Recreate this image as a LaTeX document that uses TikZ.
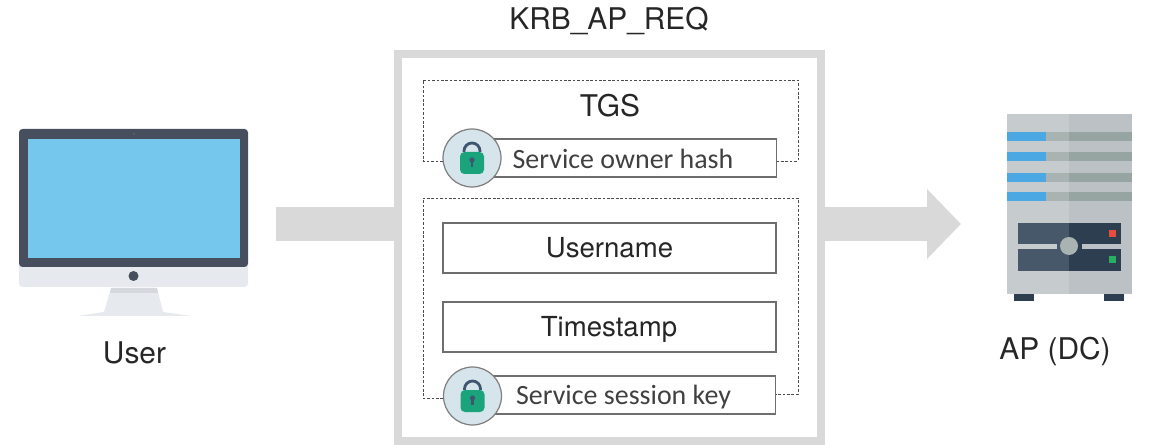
\documentclass[tikz,border=0pt]{standalone}
\usepackage{fontspec}
\setmainfont{TeX Gyre Heros}
\newfontfamily\boxfont{Carlito}
\usetikzlibrary{arrows.meta}

\definecolor{barGray}{HTML}{D9D9D9}
\definecolor{boxEdge}{HTML}{6E6E6E}
\definecolor{lockFill}{HTML}{D6E4EC}
\definecolor{lockGreen}{HTML}{1BA37C}
\definecolor{lockDark}{HTML}{3F5670}
\definecolor{macDark}{HTML}{474F5F}
\definecolor{macBlue}{HTML}{76C7EE}
\definecolor{macSilver}{HTML}{E6E9EE}
\definecolor{macShade}{HTML}{D5D8DD}
\definecolor{srvLeft}{HTML}{C6CBCE}
\definecolor{srvRight}{HTML}{BBC1C4}
\definecolor{srvBlue}{HTML}{4BA8E3}
\definecolor{srvSlotL}{HTML}{A9B4B2}
\definecolor{srvSlotR}{HTML}{96A4A2}
\definecolor{srvDarkL}{HTML}{46586A}
\definecolor{srvDarkR}{HTML}{2C3E50}
\definecolor{ledRed}{HTML}{E74C3C}
\definecolor{ledGreen}{HTML}{27AE60}

\tikzset{
  title/.style={font=\fontsize{17}{20}\selectfont,text=black!85},
  fieldbox/.style={draw=boxEdge,line width=.7pt,fill=white,minimum width=6.66cm,minimum height=1cm,
    inner sep=0pt,font=\fontsize{15.7}{19}\selectfont,text=black!85},
  keybox/.style={fieldbox,minimum height=.76cm},
  keytext/.style={font=\boxfont\fontsize{15.9}{19}\selectfont,text=black!75},
  lockcircle/.style={circle,draw=gray,line width=.7pt,fill=lockFill,minimum size=1.16cm,inner sep=0pt},
  dashbox/.style={dash pattern=on 1.5pt off 1pt,draw=black!70,line width=.5pt},
  lockicon/.pic={
    \draw[lockDark,line width=1.6pt] (-8,-6) -- (-8,-7) arc (180:360:8 and 8) -- (8,-6);
    \fill[lockGreen,rounded corners=2.5pt] (-12,-6) rectangle (12,16);
    \fill[lockDark] (0,2) circle (2.6);
    \fill[lockDark] (-1.2,2) rectangle (1.2,9);
  }
}

\begin{document}
\begin{tikzpicture}[x=.02cm,y=-.02cm]
\useasboundingbox (0,0) rectangle (1151,445);

% arrows
\coordinate (barin) at (276,224);
\coordinate (arrowtip) at (961,224);
\node[draw=barGray,line width=.16cm,minimum width=8.46cm,minimum height=7.74cm,inner sep=0pt] (frame) at (609.5,247.5) {};
\draw[barGray,line width=.68cm] (barin) -- (barin -| frame.west);
\draw[barGray,line width=.68cm,-{Triangle[length=.68cm,width=1.36cm]}] (arrowtip -| frame.east) -- (arrowtip);

\node[title] (reqlabel) at (609,21) {KRB\_AP\_REQ};

% ticket
\node[title] (tgs) at (610,106) {TGS};
\node[keybox,minimum width=6.1cm,anchor=east] (ownerhash) at (777,158) {};
\node[lockcircle] (ownerlock) at (472,158) {};
\pic at (ownerlock) {lockicon};
\node[keytext] (ownertext) at (623,159) {Service owner hash};
\draw[dashbox] (ownerlock.186) -| (423,80) -| (798,161) -- (ownerhash.east |- 798,161);

% authenticator
\node[fieldbox] (username) at (609.5,248) {Username};
\node[fieldbox] (timestamp) at (609.5,327) {};
\node[font=\fontsize{15.7}{19}\selectfont,text=black!85] (timetext) at (609,329.5) {Timestamp};
\node[keybox,minimum width=6.1cm,anchor=east] (sessionkey) at (776,395) {};
\node[lockcircle] (sessionlock) at (472.5,396) {};
\pic at (sessionlock) {lockicon};
\node[keytext] (sessiontext) at (623.5,397.5) {Service session key};
\draw[dashbox] (sessionlock.184) -| (423,198) -| (798,394) -- (sessionkey.east |- 798,394);

% user
\fill[macSilver,rounded corners=2pt] (19,260) rectangle (248,287);
\fill[macDark,rounded corners=2pt] (19,129) -- (248,129) -- (248,267) -- (19,267) -- cycle;
\fill[macBlue] (28,139) rectangle (240,258);
\fill[macDark] (133.5,276) circle (5);
\fill[black!60] (134,134) circle (1);
\fill[macSilver] (111,288) -- (157,288) -- (163,312) -- (191,316) -- (78,316) -- (104,312) -- cycle;
\fill[macShade] (111,288) -- (157,288) -- (158,293) -- (110,293) -- cycle;
\node[title] (user) at (134.5,353) {User};

% server
\fill[srvLeft] (1007,114) rectangle (1069,294);
\fill[srvRight] (1069,114) rectangle (1132,294);
\foreach \slot in {132,152.5,173,192}{
  \fill[srvBlue] (1007,\slot) rectangle (1046,\slot+9);
  \fill[srvSlotL] (1046,\slot) rectangle (1069,\slot+9);
  \fill[srvSlotR] (1069,\slot) rectangle (1132,\slot+9);
}
\fill[srvDarkL] (1018,223) rectangle (1069,271);
\fill[srvDarkR] (1069,223) rectangle (1121,271);
\fill[srvLeft] (1018,244) rectangle (1057,249);
\fill[srvRight] (1082,244) rectangle (1121,249);
\fill[srvSlotL] (1069,246) circle (9);
\fill[ledRed] (1108.5,230) rectangle (1115.5,237);
\fill[ledGreen] (1108.5,256.5) rectangle (1115.5,263.5);
\fill[srvDarkR] (1014,294) rectangle (1034,301);
\fill[srvDarkR] (1104,294) rectangle (1124,301);
\node[title] (ap) at (1055,352) {AP (DC)};

\end{tikzpicture}
\end{document}
